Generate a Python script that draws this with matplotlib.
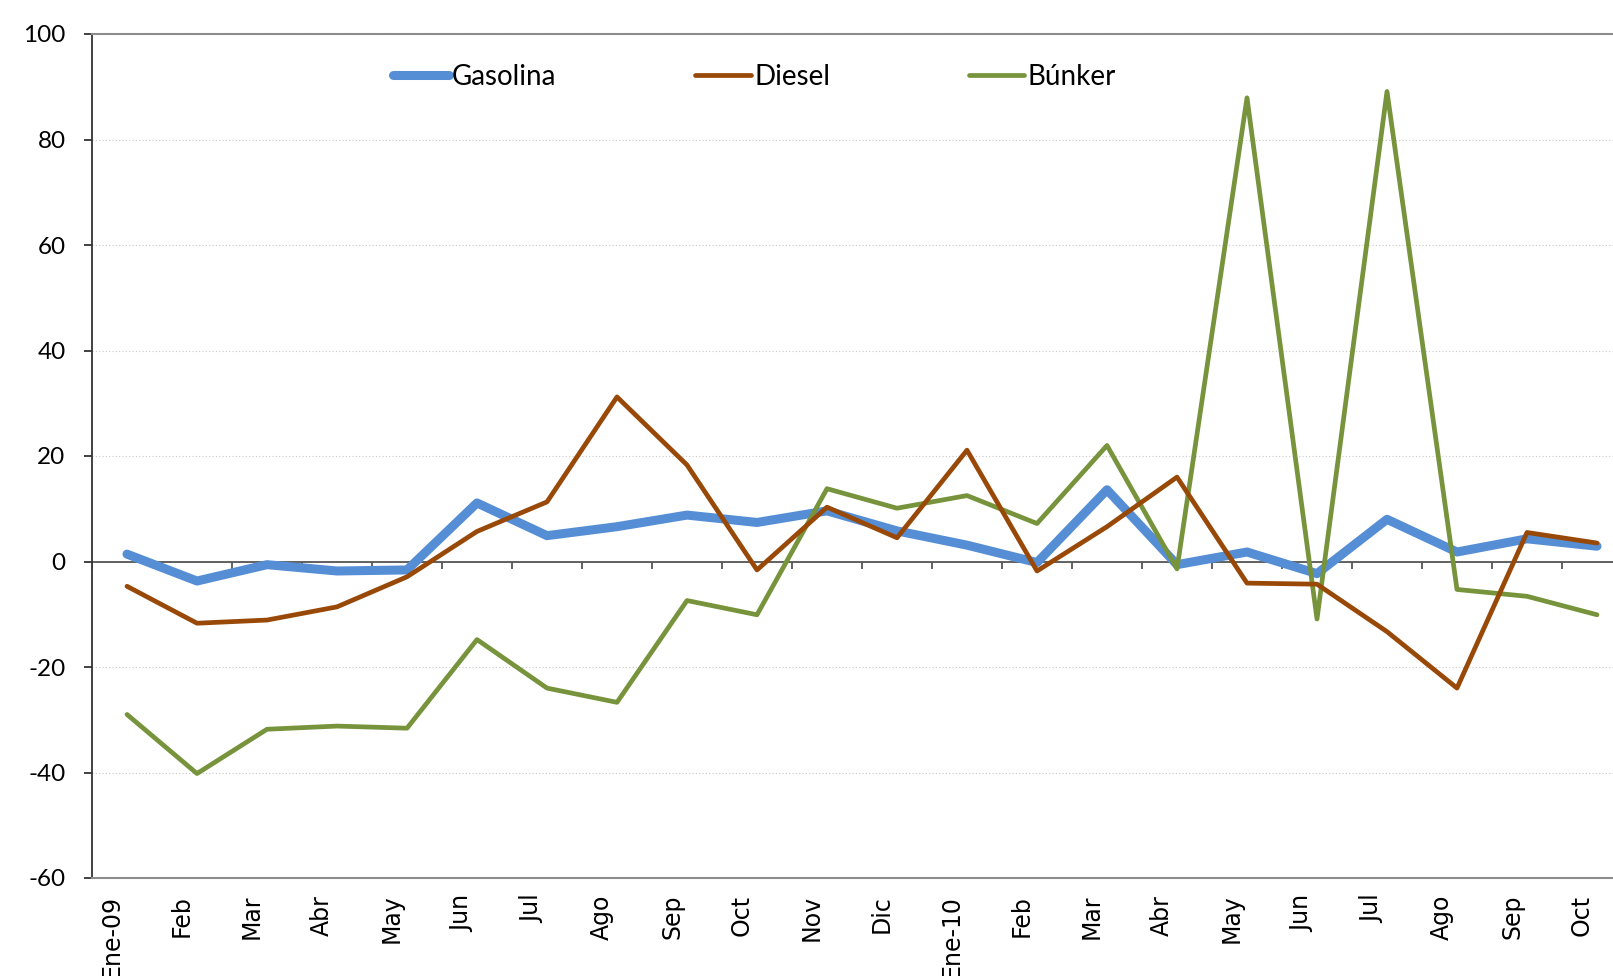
import numpy as np
import matplotlib
matplotlib.use("Agg")
import matplotlib.pyplot as plt
from matplotlib.transforms import ScaledTranslation

plt.rcParams["axes.unicode_minus"] = False

# --- DATA ---
months = ["Ene-09", "Feb", "Mar", "Abr", "May", "Jun", "Jul", "Ago", "Sep", "Oct",
          "Nov", "Dic", "Ene-10", "Feb", "Mar", "Abr", "May", "Jun", "Jul", "Ago",
          "Sep", "Oct"]

gasolina = [1.4, -3.7, -0.6, -1.8, -1.6, 11.1, 4.9, 6.6, 8.8, 7.4,
            9.6, 5.8, 3.1, -0.2, 13.6, -0.6, 1.8, -2.3, 8.0, 1.8,
            4.3, 2.9]
diesel = [-4.7, -11.7, -11.1, -8.6, -2.9, 5.7, 11.3, 31.2, 18.3, -1.6,
          10.3, 4.5, 21.1, -1.8, 6.6, 16.0, -4.1, -4.3, -13.3, -24.0,
          5.5, 3.5]
bunker = [-29.0, -40.2, -31.8, -31.2, -31.6, -14.8, -24.0, -26.7, -7.4, -10.1,
          13.8, 10.1, 12.5, 7.2, 22.0, -1.4, 87.9, -10.9, 89.1, -5.3,
          -6.6, -10.1]

y_ticks = [-60, -40, -20, 0, 20, 40, 60, 80, 100]

# --- FIGURE ---
W, H, DPI = 1613, 976, 100
fig = plt.figure(figsize=(W / DPI, H / DPI), dpi=DPI)
ax = fig.add_axes([92 / W, 1 - 878 / H, 1 - 92 / W, (878 - 34) / H])

x = np.arange(len(months))
ax.plot(x, gasolina, color="#558ED5", lw=6.5, solid_capstyle="round",
        solid_joinstyle="round", label="Gasolina", zorder=3)
ax.plot(x, bunker, color="#77933C", lw=3.4, solid_capstyle="round",
        solid_joinstyle="round", label="Búnker", zorder=4)
ax.plot(x, diesel, color="#984807", lw=3.4, solid_capstyle="round",
        solid_joinstyle="round", label="Diesel", zorder=5)

# zero line with category tick marks hanging below it
ax.axhline(0, color="#555555", lw=1.3, zorder=2)
ax.vlines(np.arange(len(months) + 1) - 0.5, -1.5, 0, color="#555555", lw=1.3, zorder=2)

ax.set_xlim(-0.5, 21.5 - 19 / 70)
ax.set_ylim(-60, 100)
ax.set_yticks(y_ticks)
ax.set_xticks(x)
ax.set_xticklabels(months, rotation=90, va="top", ha="center",
                   fontfamily="DejaVu Sans", fontsize=17)
ax.tick_params(axis="x", length=0, pad=12)
ax.tick_params(axis="y", length=6, width=1.3, color="#333333", pad=13,
               labelsize=17.5, direction="out")
for lab in ax.get_yticklabels():
    lab.set_fontfamily("Lato")

# Excel puts the rotated labels a bit left of the category centre
shift = ScaledTranslation(-15 / DPI, 0, fig.dpi_scale_trans)
for lab in ax.get_xticklabels():
    lab.set_transform(lab.get_transform() + shift)

ax.yaxis.grid(True, color="#c8c8c8", lw=0.8, linestyle=(0, (1, 2)))
ax.set_axisbelow(True)

ax.spines["right"].set_visible(False)
ax.spines["top"].set_color("#8c8c8c")
ax.spines["top"].set_linewidth(1.5)
ax.spines["bottom"].set_color("#8c8c8c")
ax.spines["bottom"].set_linewidth(1.5)
ax.spines["left"].set_color("#333333")
ax.spines["left"].set_linewidth(1.3)

handles, labels = ax.get_legend_handles_labels()
order = [0, 2, 1]
leg = ax.legend([handles[i] for i in order], [labels[i] for i in order],
                ncol=3, loc="center left",
                bbox_to_anchor=((393 - 92) / (W - 92), (878 - 77) / (878 - 34)),
                frameon=False, borderpad=0, borderaxespad=0,
                handlelength=2.0, handletextpad=0.12, columnspacing=5.0,
                prop={"family": "Lato", "size": 20})

fig.savefig("out.png", dpi=DPI)
